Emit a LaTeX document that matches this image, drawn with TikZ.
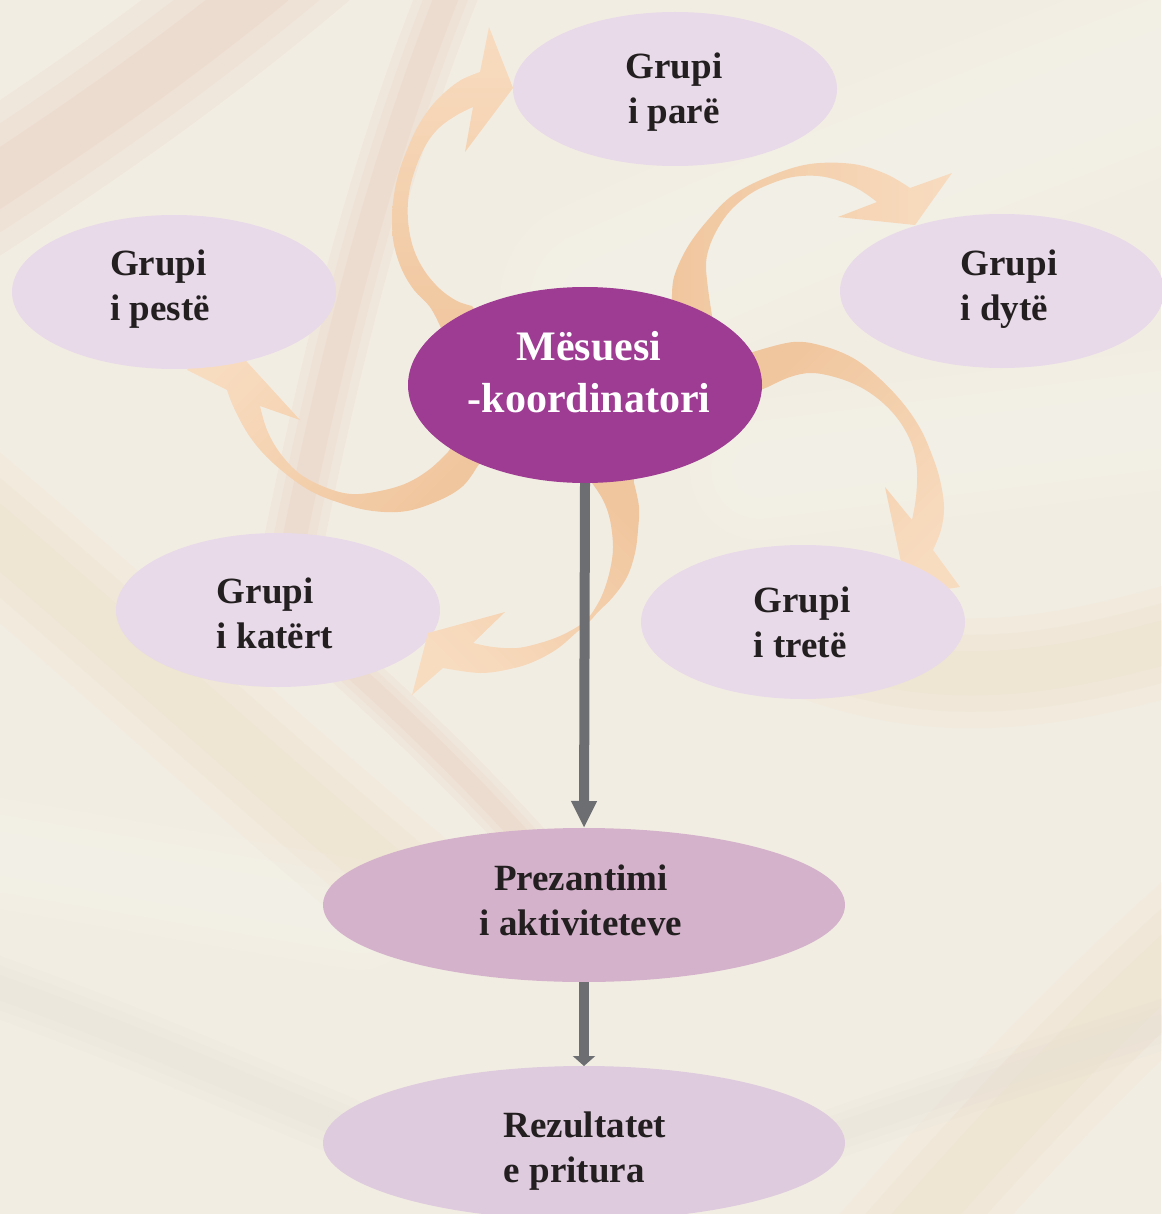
\documentclass[tikz,border=0pt]{standalone}
\usepackage{fontspec}
\setmainfont{Liberation Serif}
\usetikzlibrary{shapes.geometric,arrows.meta}
\definecolor{bg}{HTML}{F2EDE3}
\definecolor{grp}{HTML}{E8DAE8}
\definecolor{mes}{HTML}{9E3B93}
\definecolor{prez}{HTML}{D5B2CB}
\definecolor{rez}{HTML}{DECBDD}
\definecolor{ordark}{HTML}{F0C69E}
\definecolor{orlight}{HTML}{F8DCC0}
\definecolor{arrgrey}{HTML}{6D6E71}
\definecolor{txt}{HTML}{231F20}
\definecolor{pinkstreak}{HTML}{E2AE96}
\definecolor{whitestreak}{HTML}{FAFAF8}
\definecolor{yelstreak}{HTML}{EBD2A6}
\definecolor{greystreak}{HTML}{DCD8D2}
\newcommand{\bgstreak}[3]{\foreach \k in {1,0.7,0.4}{\draw[#1, opacity=0.09, line width=\k*#2pt, line cap=round] #3;}}
\begin{document}
\begin{tikzpicture}[x=1pt,y=-1pt,
  grpell/.style={ellipse, fill=grp, minimum width=324pt, minimum height=154pt, inner sep=0pt, outer sep=0pt},
  mesell/.style={ellipse, fill=mes, minimum width=354pt, minimum height=196pt, inner sep=0pt, outer sep=0pt},
  flowell/.style={ellipse, minimum width=522pt, minimum height=154pt, inner sep=0pt, outer sep=0pt},
  lbl/.style={font=\fontsize{37}{45}\selectfont\bfseries, text=txt, inner sep=0pt, align=left},
  meslbl/.style={font=\fontsize{42}{52}\selectfont\bfseries, text=white, inner sep=0pt, align=center},
  flowarrow/.style={draw=arrgrey, line width=10pt}
]
\useasboundingbox (0,0) rectangle (1161,1214);
\fill[bg] (0,0) rectangle (1161,1214);
% soft background texture (ends run off the page or hide under ellipses)
\bgstreak{pinkstreak}{130}{(-80,230) .. controls (60,140) and (180,60) .. (320,-60)}
\bgstreak{pinkstreak}{60}{(285,585) .. controls (330,360) and (380,150) .. (470,-60)}
\bgstreak{pinkstreak}{45}{(330,650) .. controls (420,730) and (490,800) .. (560,880)}
\bgstreak{yelstreak}{130}{(-80,470) .. controls (100,620) and (250,760) .. (400,885)}
\bgstreak{yelstreak}{110}{(803,640) .. controls (950,700) and (1080,670) .. (1240,620)}
\bgstreak{yelstreak}{130}{(860,1290) .. controls (980,1150) and (1100,1020) .. (1240,900)}
\bgstreak{whitestreak}{200}{(600,300) .. controls (800,210) and (980,140) .. (1240,40)}
\bgstreak{whitestreak}{140}{(760,470) .. controls (920,450) and (1080,430) .. (1240,410)}
\bgstreak{whitestreak}{110}{(-80,840) .. controls (100,870) and (240,895) .. (360,915)}
\bgstreak{greystreak}{60}{(-80,960) .. controls (100,1020) and (230,1080) .. (340,1125)}
\bgstreak{greystreak}{50}{(1240,1000) .. controls (1050,1060) and (930,1100) .. (830,1135)}

% group four ellipse (arrow head lies over it)
\node[grpell] (g4) at (278,610) {};

% curved swoosh arrows
% to Grupi i pare
\shade[top color=orlight, bottom color=ordark]
  (455,345) -- plot[smooth, tension=0.6] coordinates {(441,328) (430,307) (414,290) (402,270) (394,245) (392,220) (394,195) (399,172) (407,150) (417,128) (430,108) (444,93) (461,80) (480,72)}
  -- (489,27) -- (513,88) -- (465,152)
  -- plot[smooth, tension=0.6] coordinates {(473,107) (457,115) (440,127) (427,143) (416,167) (409,193) (408,220) (413,247) (424,270) (440,289) (457,301) (472,306)}
  -- (484,322) -- cycle;
% to Grupi i dyte
\shade[left color=ordark, right color=orlight]
  (676,322) -- plot[smooth, tension=0.6] coordinates {(672,300) (674,277) (687,248) (707,221) (733,195) (770,176) (810,164) (853,164) (886,174) (910,188)}
  -- (952,173) -- (915,225) -- (838,217)
  -- plot[smooth, tension=0.6] coordinates {(877,202) (860,190) (840,181) (818,176) (793,177) (770,184) (750,194) (731,210) (718,228) (709,248) (706,268) (710,303)}
  -- (713,322) -- cycle;
% to Grupi i trete
\shade[top color=ordark, bottom color=orlight, shading angle=45]
  (740,357) -- plot[smooth, tension=0.6] coordinates {(753,352) (793,342) (823,346) (853,358) (878,377) (902,402) (920,428) (932,455) (940,480) (944,507) (941,530) (933,550)}
  -- (960,587) -- (908,595) -- (885,487)
  -- plot[smooth, tension=0.6] coordinates {(912,520) (916,497) (917,470) (912,445) (900,422) (883,403) (862,388) (838,378) (812,373) (790,377) (768,387)}
  -- (750,394) -- cycle;
% to Grupi i katert
\shade[top color=ordark, bottom color=orlight, shading angle=-45]
  (592,466) -- plot[smooth, tension=0.6] coordinates {(592,483) (603,500) (610,520) (613,547) (610,570) (603,593) (594,610) (586,620) (577,627) (560,636) (540,643) (517,648) (493,647) (473,643)}
  -- (505,612) -- (428,633) -- (412,695)
  -- plot[smooth, tension=0.6] coordinates {(443,668) (480,673) (510,669) (533,662) (557,649) (577,632) (590,621) (598,612) (613,597) (627,577) (635,553) (638,530) (639,507) (634,483)}
  -- (633,462) -- cycle;
% to Grupi i peste
\shade[top color=orlight, bottom color=ordark, shading angle=45]
  (486,455) -- plot[smooth, tension=0.6] coordinates {(477,467) (463,486) (440,500) (407,511) (373,511) (340,503) (307,489) (273,463) (250,437) (234,408) (227,390)}
  -- (187,370) -- (216,328) -- (300,420)
  -- plot[smooth, tension=0.6] coordinates {(260,406) (267,430) (280,453) (300,474) (327,488) (352,494) (380,491) (407,483) (430,469) (448,452)}
  -- (456,440) -- cycle;

% other ellipses
\node[grpell] (g1) at (675,89) {};
\node[grpell] (g5) at (174,292) {};
\node[grpell] (g2) at (1002,291) {};
\node[grpell] (g3) at (803,622) {};
\node[mesell] (mes) at (585,385) {};
\node[flowell, fill=prez] (prez) at (584,905) {};
\node[flowell, fill=rez] (rez) at (584,1143) {};

% straight flow arrows
\draw[flowarrow, -{Triangle[width=24pt,length=27pt]}] (mes.south) -- (prez.north);
\draw[flowarrow, -{Triangle[width=22pt,length=10pt]}] (prez.south) -- (rez.north);

% labels
\node[lbl, align=center] (t1) at (674,92) {Grupi\\i parë};
\node[lbl] (t5) at (160,289) {Grupi\\i pestë};
\node[lbl] (t2) at (1009,289) {Grupi\\i dytë};
\node[lbl] (t4) at (275,613) {Grupi\\i katërt};
\node[lbl] (t3) at (802,622) {Grupi\\i tretë};
\node[meslbl] (tm) at (589,372) {Mësuesi\\-koordinatori};
\node[lbl, align=center] (tp) at (581,900) {Prezantimi\\i aktiviteteve};
\node[lbl] (tr) at (585,1151) {Rezultatet\\e pritura};
\end{tikzpicture}
\end{document}
